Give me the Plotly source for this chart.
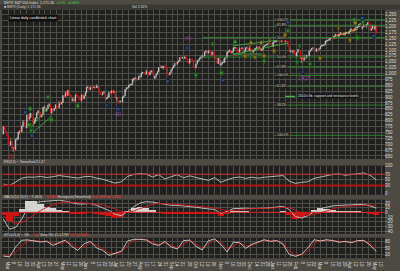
import plotly.graph_objects as go
from plotly.subplots import make_subplots

# ---------------- daily candles, 24 Feb 2009 .. 4 May 2010 (trading-day order) ----------------
price_open = (
    [743, 773, 764, 752]  # Feb 09
    + [735, 700, 696, 712, 682, 683, 677, 720, 721, 751, 756, 753, 778, 794, 784, 769, 823, 806, 813, 832, 815, 787]  # Mar 09
    + [798, 811, 834, 842, 835, 815, 825, 856, 858, 842, 852, 865, 869, 832, 850, 843, 851, 866, 857, 855, 873]  # Apr 09
    + [872, 877, 907, 903, 919, 907, 929, 909, 908, 883, 893, 882, 909, 908, 903, 888, 887, 910, 893, 906]  # May 09
    + [919, 942, 944, 931, 942, 940, 939, 942, 940, 944, 946, 923, 911, 910, 918, 921, 893, 895, 900, 920, 918, 927]  # Jun 09
    + [919, 923, 896, 898, 881, 879, 882, 879, 901, 905, 932, 940, 940, 951, 954, 954, 976, 979, 982, 979, 975, 986]  # Jul 09
    + [987, 1002, 1005, 1002, 997, 1010, 1007, 994, 1006, 1013, 1005, 979, 989, 997, 1008, 1026, 1025, 1028, 1028, 1031, 1029]  # Aug 09
    + [1021, 998, 995, 1004, 1016, 1025, 1033, 1044, 1042, 1049, 1053, 1068, 1065, 1068, 1064, 1071, 1060, 1050, 1044, 1062, 1060]  # Sep 09
    + [1057, 1029, 1025, 1040, 1054, 1057, 1065, 1071, 1076, 1073, 1092, 1096, 1087, 1097, 1091, 1081, 1092, 1079, 1066, 1063, 1042, 1066]  # Oct 09
    + [1036, 1042, 1046, 1047, 1066, 1069, 1093, 1093, 1098, 1087, 1093, 1109, 1110, 1110, 1094, 1091, 1106, 1105, 1110, 1091]  # Nov 09
    + [1096, 1109, 1109, 1099, 1106, 1104, 1091, 1095, 1102, 1106, 1114, 1107, 1110, 1097, 1102, 1114, 1118, 1120, 1126, 1128, 1126, 1126]  # Dec 09
    + [1115, 1133, 1136, 1137, 1141, 1145, 1147, 1136, 1146, 1148, 1136, 1150, 1138, 1116, 1092, 1096, 1092, 1097, 1084]  # Jan 10
    + [1074, 1090, 1103, 1098, 1063, 1066, 1056, 1070, 1068, 1078, 1075, 1095, 1100, 1107, 1109, 1108, 1095, 1105, 1103]  # Feb 10
    + [1105, 1115, 1118, 1119, 1123, 1139, 1139, 1141, 1146, 1151, 1150, 1150, 1159, 1167, 1166, 1160, 1166, 1174, 1167, 1165, 1166, 1173, 1173]  # Mar 10
    + [1169, 1178, 1187, 1189, 1182, 1186, 1194, 1197, 1197, 1210, 1212, 1192, 1198, 1208, 1205, 1208, 1217, 1213, 1183, 1191, 1206]  # Apr 10
    + [1187, 1202]  # May 10
)
price_high = (
    [778, 780, 770, 755]
    + [736, 711, 724, 713, 690, 689, 721, 731, 752, 758, 772, 779, 803, 797, 788, 824, 824, 832, 833, 833, 816, 810]
    + [814, 836, 845, 843, 836, 828, 857, 864, 862, 853, 870, 875, 869, 852, 862, 853, 871, 868, 864, 883, 888]
    + [880, 908, 908, 920, 930, 930, 929, 915, 908, 898, 894, 910, 916, 918, 903, 896, 911, 913, 909, 920]
    + [943, 947, 944, 943, 951, 946, 947, 949, 956, 947, 946, 928, 919, 922, 927, 921, 899, 911, 922, 921, 928, 930]
    + [931, 923, 899, 898, 887, 887, 883, 902, 906, 933, 943, 941, 951, 956, 959, 979, 979, 982, 982, 979, 996, 993]
    + [1004, 1006, 1007, 1009, 1018, 1010, 1007, 1012, 1014, 1013, 1005, 991, 999, 1011, 1027, 1035, 1037, 1032, 1033, 1039, 1029]
    + [1028, 1001, 1004, 1019, 1026, 1036, 1045, 1048, 1050, 1056, 1068, 1074, 1072, 1069, 1074, 1080, 1066, 1053, 1065, 1064, 1064]
    + [1057, 1031, 1042, 1060, 1058, 1071, 1071, 1080, 1076, 1093, 1097, 1096, 1098, 1099, 1101, 1095, 1095, 1095, 1072, 1064, 1067, 1066]
    + [1053, 1047, 1062, 1066, 1071, 1094, 1096, 1105, 1101, 1097, 1113, 1111, 1113, 1110, 1094, 1113, 1107, 1112, 1110, 1098]
    + [1113, 1117, 1118, 1119, 1110, 1104, 1096, 1108, 1110, 1116, 1114, 1117, 1110, 1103, 1117, 1119, 1121, 1127, 1130, 1130, 1128, 1127]
    + [1134, 1137, 1140, 1142, 1146, 1150, 1147, 1148, 1149, 1148, 1151, 1150, 1142, 1116, 1103, 1100, 1099, 1099, 1092]
    + [1091, 1104, 1103, 1098, 1067, 1071, 1080, 1072, 1080, 1078, 1095, 1100, 1108, 1112, 1112, 1108, 1107, 1105, 1107]
    + [1116, 1124, 1125, 1123, 1139, 1141, 1144, 1148, 1151, 1154, 1150, 1160, 1169, 1167, 1169, 1167, 1175, 1174, 1180, 1174, 1175, 1176, 1174]
    + [1181, 1188, 1191, 1189, 1187, 1194, 1199, 1199, 1210, 1213, 1212, 1198, 1209, 1208, 1208, 1217, 1219, 1213, 1195, 1207, 1208]
    + [1205, 1202]
)
price_low = (
    [740, 760, 748, 732]
    + [697, 690, 694, 680, 667, 672, 676, 715, 719, 742, 750, 749, 772, 780, 766, 768, 802, 803, 812, 813, 779, 785]
    + [790, 809, 826, 828, 811, 814, 824, 845, 839, 836, 848, 860, 830, 829, 841, 838, 850, 854, 847, 855, 866]
    + [866, 877, 897, 902, 901, 906, 904, 902, 880, 882, 878, 882, 903, 898, 884, 882, 880, 892, 889, 903]
    + [919, 938, 929, 930, 934, 932, 937, 933, 939, 938, 919, 910, 904, 907, 915, 892, 888, 894, 896, 913, 916, 915]
    + [917, 895, 886, 880, 869, 878, 873, 879, 896, 905, 928, 934, 940, 945, 947, 953, 965, 972, 968, 968, 975, 982]
    + [987, 998, 996, 994, 997, 1000, 992, 992, 1003, 998, 978, 979, 980, 996, 1008, 1024, 1024, 1021, 1016, 1024, 1016]
    + [996, 991, 992, 1002, 1016, 1023, 1029, 1038, 1035, 1045, 1052, 1061, 1064, 1057, 1063, 1058, 1045, 1041, 1044, 1055, 1049]
    + [1029, 1020, 1025, 1040, 1050, 1057, 1063, 1068, 1065, 1073, 1085, 1081, 1086, 1086, 1080, 1074, 1075, 1063, 1060, 1042, 1042, 1033]
    + [1030, 1034, 1045, 1047, 1060, 1069, 1086, 1093, 1085, 1085, 1093, 1102, 1105, 1086, 1086, 1091, 1097, 1105, 1084, 1086]
    + [1096, 1105, 1097, 1094, 1098, 1088, 1086, 1095, 1102, 1106, 1102, 1107, 1095, 1095, 1102, 1114, 1117, 1120, 1126, 1126, 1124, 1115]
    + [1115, 1130, 1134, 1131, 1136, 1141, 1131, 1131, 1142, 1131, 1136, 1129, 1114, 1091, 1091, 1085, 1083, 1081, 1072]
    + [1074, 1090, 1094, 1062, 1044, 1056, 1056, 1062, 1061, 1067, 1075, 1091, 1099, 1103, 1105, 1091, 1092, 1086, 1097]
    + [1105, 1115, 1116, 1116, 1123, 1136, 1133, 1141, 1138, 1148, 1141, 1150, 1159, 1163, 1155, 1151, 1165, 1164, 1165, 1160, 1166, 1168, 1165]
    + [1169, 1175, 1183, 1179, 1177, 1186, 1194, 1188, 1197, 1208, 1186, 1185, 1198, 1198, 1191, 1205, 1211, 1181, 1183, 1191, 1187]
    + [1187, 1168]
)
price_close = (
    [773, 764, 752, 735]
    + [700, 696, 712, 682, 683, 677, 720, 721, 751, 756, 753, 778, 794, 784, 769, 823, 806, 813, 832, 815, 787, 798]
    + [811, 834, 842, 835, 815, 825, 856, 858, 842, 852, 865, 869, 832, 850, 843, 851, 866, 857, 855, 873, 872]
    + [877, 907, 903, 919, 907, 929, 909, 908, 883, 893, 882, 909, 908, 903, 888, 887, 910, 893, 906, 919]
    + [942, 944, 931, 942, 940, 939, 942, 940, 944, 946, 923, 911, 910, 918, 921, 893, 895, 900, 920, 918, 927, 919]
    + [923, 896, 898, 881, 879, 882, 879, 901, 905, 932, 940, 940, 951, 954, 954, 976, 979, 982, 979, 975, 986, 987]
    + [1002, 1005, 1002, 997, 1010, 1007, 994, 1006, 1013, 1005, 979, 989, 997, 1008, 1026, 1025, 1028, 1028, 1031, 1029, 1021]
    + [998, 995, 1004, 1016, 1025, 1033, 1044, 1042, 1049, 1053, 1068, 1065, 1068, 1064, 1071, 1060, 1050, 1044, 1062, 1060, 1057]
    + [1029, 1025, 1040, 1054, 1057, 1065, 1071, 1076, 1073, 1092, 1096, 1087, 1097, 1091, 1081, 1092, 1079, 1066, 1063, 1042, 1066, 1036]
    + [1042, 1046, 1047, 1066, 1069, 1093, 1093, 1098, 1087, 1093, 1109, 1110, 1110, 1094, 1091, 1106, 1105, 1110, 1091, 1096]
    + [1109, 1109, 1099, 1106, 1104, 1091, 1095, 1102, 1106, 1114, 1107, 1110, 1097, 1102, 1114, 1118, 1120, 1126, 1128, 1126, 1126, 1115]
    + [1133, 1136, 1137, 1141, 1145, 1147, 1136, 1146, 1148, 1136, 1150, 1138, 1116, 1092, 1096, 1092, 1097, 1084, 1074]
    + [1090, 1103, 1098, 1063, 1066, 1056, 1070, 1068, 1078, 1075, 1095, 1100, 1107, 1109, 1108, 1095, 1105, 1103, 1105]
    + [1115, 1118, 1119, 1123, 1139, 1139, 1141, 1146, 1151, 1150, 1150, 1159, 1167, 1166, 1160, 1166, 1174, 1167, 1165, 1166, 1173, 1173, 1169]
    + [1178, 1187, 1189, 1182, 1186, 1194, 1197, 1197, 1210, 1212, 1192, 1198, 1208, 1205, 1208, 1217, 1213, 1183, 1191, 1206, 1187]
    + [1202, 1173]
)
day_pos = list(range(len(price_close)))

# ---------------- indicators, read every 5th trading day ----------------
ind_pos = list(range(0, 301, 5))
rsi14 = [35, 30, 42, 56, 60, 59, 62, 58, 61, 65, 62, 58, 56, 61, 62, 56, 52, 45, 38, 43,
         62, 69, 72, 70, 60, 68, 53, 61, 68, 57, 64, 58, 53, 48, 58, 41, 50, 57, 60, 55,
         59, 56, 59, 61, 63, 65, 45, 37, 41, 43, 55, 60, 66, 69, 71, 66, 69, 72, 74, 66, 50]
macd_line = [-14, -36, -32, -14, 12, 20, 23, 24, 25, 26, 24, 21, 18, 18, 19, 15, 10, 4, -4, -7,
             2, 12, 20, 23, 22, 20, 17, 15, 15, 14, 13, 11, 9, 8, 6, -2, 2, 8, 9, 9,
             8, 8, 9, 10, 11, 13, 6, -9, -12, -7, 1, 8, 11, 14, 15, 15, 16, 17, 17, 14, 9]
macd_signal = [-8, -18, -24, -22, -14, -5, 4, 11, 16, 20, 22, 22, 21, 20, 19, 18, 16, 12, 7, 2,
               0, 3, 8, 13, 17, 19, 19, 18, 17, 16, 15, 14, 12, 11, 9, 6, 4, 4, 6, 7,
               8, 8, 8, 9, 10, 11, 10, 5, -2, -6, -5, -1, 4, 8, 11, 13, 14, 15, 16, 16, 14]
macd_hist = [-6, -18, -8, 8, 26, 25, 19, 13, 9, 6, 2, -1, -3, -2, 0, -3, -6, -8, -11, -9,
             2, 9, 12, 10, 5, 1, -2, -3, -2, -2, -2, -3, -3, -3, -3, -8, -2, 4, 3, 2,
             0, 0, 1, 1, 1, 2, -4, -14, -10, -1, 6, 9, 7, 6, 4, 2, 2, 2, 1, -2, -5]
stoch_k = [10, 6, 55, 88, 89, 84, 79, 83, 62, 76, 88, 58, 38, 70, 82, 50, 38, 14, 25, 34,
           84, 92, 92, 89, 70, 62, 82, 55, 45, 86, 88, 58, 40, 85, 94, 68, 30, 78, 76, 48,
           68, 80, 90, 82, 86, 68, 18, 9, 20, 50, 90, 84, 90, 86, 78, 82, 76, 86, 86, 64, 32]
stoch_d = [14, 9, 28, 62, 84, 87, 82, 81, 72, 70, 80, 70, 50, 56, 74, 64, 46, 26, 22, 28,
           62, 88, 92, 90, 78, 66, 74, 64, 50, 70, 86, 70, 48, 68, 90, 78, 46, 60, 76, 60,
           62, 76, 86, 84, 84, 74, 36, 14, 16, 36, 74, 86, 88, 87, 82, 80, 78, 82, 86, 72, 46]

# ---------------- date axis ticks (trading-day positions) ----------------
tick_pos = [4, 9, 14, 19, 24, 29, 33, 38, 43, 48, 53, 58, 63, 67, 72, 77, 82, 87, 91, 96, 101, 106,
            111, 116, 121, 126, 131, 136, 140, 145, 150, 155, 160, 165, 170, 175, 180, 185, 190, 194,
            199, 204, 209, 213, 217, 222, 227, 231, 236, 241, 246, 250, 255, 260, 265, 270, 275,
            279, 284, 289, 294, 299, 304]
tick_text = ["Mar", "9", "16", "23", "30", "Apr", "13", "20", "27", "May", "11", "18", "26", "Jun", "8", "15",
             "22", "29", "Jul", "13", "20", "27", "Aug", "10", "17", "24", "31", "Sep", "14", "21", "28",
             "Oct", "12", "19", "26", "Nov", "9", "16", "23", "30", "Dec", "14", "21", "28", "Jan", "11",
             "19", "25", "Feb", "8", "16", "22", "Mar", "8", "15", "22", "29", "Apr", "12", "19", "26",
             "May", "10"]
price_ticks = list(range(650, 1251, 25))

# ---------------- drawn studies ----------------
fib_levels = [1229, 1205, 1153, 1070, 1029, 992, 946, 866, 738]
fib_labels = ["100.0%", "61.8%", "50.0%", "50.0%", "61.8%", "100.0%", "61.8%", "38.2%", "100.0%"]
fib_start = [218, 218, 160, 160, 218, 218, 218, 218, 218]

green_lines = [([21.5, 37.6], [767, 866]), ([23.9, 39.2], [750, 820]),
               ([184.8, 229], [1118, 1147]), ([184.8, 229], [1081, 1130]),
               ([184.8, 208], [1083, 1083])]
yellow_lines = [([265, 285], [1155, 1188])]

wave_labels = {
    "blue": [(17.5, 837, "a"), (23.1, 733, "b"), (83.4, 866, "c"), (92.3, 849, "w"), (147.8, 1110, "x"),
             (132.5, 969, "y"), (176.7, 973, "a"), (229, 1217, "b"), (241, 1006, "c"), (289.3, 1238, "w"),
             (298.2, 1159, "x")],
    "green": [(21.5, 849, "iii"), (21.5, 783, "iv"), (22.3, 758, "ii"), (39.2, 804, "iv"), (36, 899, "v"),
              (60.1, 862, "b"), (167.9, 1126, "i"), (155, 994, "ii"), (175.9, 1002, "iv"), (186.4, 1134, "iii"),
              (209.7, 1052, "a"), (229, 1180, "v"), (236.2, 1048, "c"), (238.6, 1118, "i"), (246.7, 1039, "ii"),
              (284.5, 1151, "iv"), (282.1, 1229, "iii"), (289.3, 1221, "v")],
    "yellow": [(194.4, 1076, "a"), (199.2, 1130, "b"), (202.5, 1072, "c"), (207.3, 1130, "d"), (209.7, 1076, "e"),
               (214.5, 1138, "i"), (217.7, 1097, "ii"), (226.6, 1163, "iii"), (254.7, 1068, "a"),
               (270, 1192, "i"), (278.9, 1143, "ii"), (282.9, 1213, "iii")],
}
wave_big = [(92.3, 824, "(X)", "#8a4fd6", 4.5), (148.6, 1147, "(Y)", "#8a4fd6", 4.5),
            (242.7, 981, "(X)?", "#8a4fd6", 6), (7, 649, "[1]", "#e02020", 5.5)]

# ---------------- styling ----------------
FRAME = "#4d4a43"
PANEL = "#1f1f1d"
GRID = "#4e4e4b"
TXT = "#dcdcdc"
RED = "#e01a1a"
FONT = "Liberation Sans"
W, H, ML, MR = 400, 271, 2, 15
PW = W - ML - MR


def px(xp):
    return (xp - ML) / PW


def py(yp):
    return 1 - yp / H


fig = make_subplots(rows=4, cols=1, shared_xaxes=True, vertical_spacing=0.01)

fig.add_trace(go.Candlestick(
    x=day_pos, open=price_open, high=price_high, low=price_low, close=price_close,
    increasing=dict(line=dict(color="#cfcfcf", width=0.5), fillcolor="#eeeeee"),
    decreasing=dict(line=dict(color=RED, width=0.5), fillcolor=RED),
    whiskerwidth=0, hoverinfo="skip"), row=1, col=1)

for (xs, ys) in green_lines:
    fig.add_trace(go.Scatter(x=xs, y=ys, mode="lines", line=dict(color="#3fbf3f", width=0.8),
                             hoverinfo="skip"), row=1, col=1)
for (xs, ys) in yellow_lines:
    fig.add_trace(go.Scatter(x=xs, y=ys, mode="lines", line=dict(color="#c8b43c", width=0.8),
                             hoverinfo="skip"), row=1, col=1)
for lvl, x0 in zip(fib_levels, fib_start):
    fig.add_trace(go.Scatter(x=[x0, 307], y=[lvl, lvl], mode="lines",
                             line=dict(color="#2e8a2e", width=0.9), hoverinfo="skip"), row=1, col=1)
# legend sample line for the fib study
fig.add_trace(go.Scatter(x=[226.6, 234.7], y=[903, 903], mode="lines",
                         line=dict(color="#3fbf3f", width=1.2), hoverinfo="skip"), row=1, col=1)

# RSI
fig.add_trace(go.Scatter(x=ind_pos, y=rsi14, mode="lines", line=dict(color="#c4c4c4", width=0.9)), row=2, col=1)
fig.add_hline(y=70, line=dict(color="#c82020", width=1), row=2, col=1)
fig.add_hline(y=30, line=dict(color="#b01515", width=2), row=2, col=1)

# MACD
fig.add_trace(go.Bar(x=ind_pos, y=macd_hist, width=5,
                     marker=dict(color=["#d4d4d4" if v >= 0 else "#d01414" for v in macd_hist], line=dict(width=0)),
                     hoverinfo="skip"), row=3, col=1)
fig.add_hline(y=0, line=dict(color="#d01818", width=1), row=3, col=1)
fig.add_trace(go.Scatter(x=ind_pos, y=macd_line, mode="lines", line=dict(color="#c8c8c8", width=0.9)), row=3, col=1)
fig.add_trace(go.Scatter(x=ind_pos, y=macd_signal, mode="lines", line=dict(color="#d01818", width=0.9)), row=3, col=1)

# Stochastics
fig.add_hline(y=80, line=dict(color="#c02020", width=1), row=4, col=1)
fig.add_hline(y=20, line=dict(color="#c02020", width=1), row=4, col=1)
fig.add_trace(go.Scatter(x=ind_pos, y=stoch_d, mode="lines", line=dict(color="#d01818", width=0.9)), row=4, col=1)
fig.add_trace(go.Scatter(x=ind_pos, y=stoch_k, mode="lines", line=dict(color="#d0d0d0", width=0.9)), row=4, col=1)

fig.update_xaxes(range=[-1, 307], tickvals=tick_pos, ticktext=tick_text, showgrid=True, gridcolor=GRID,
                 gridwidth=1, zeroline=False, showline=False, ticks="", showticklabels=False,
                 rangeslider_visible=False, fixedrange=True)
fig.update_xaxes(showticklabels=True, tickfont=dict(size=4.5, color=TXT, family=FONT), row=4, col=1)
fig.update_yaxes(side="right", showgrid=True, gridcolor=GRID, gridwidth=1, zeroline=False, ticks="",
                 tickfont=dict(size=4.5, color=TXT, family=FONT), automargin=False, fixedrange=True,
                 ticklabelstandoff=-1)

fig.update_layout(
    width=W, height=H, margin=dict(l=ML, r=MR, t=0, b=0),
    paper_bgcolor=FRAME, plot_bgcolor=PANEL, showlegend=False,
    font=dict(family=FONT, size=4.5, color=TXT), bargap=0,
    yaxis=dict(domain=[py(163), py(10)], range=[638, 1271], tickvals=price_ticks, tickformat=","),
    yaxis2=dict(domain=[py(200), py(170)], range=[-3.4, 100.3], tickvals=[0, 30, 50, 70, 100]),
    yaxis3=dict(domain=[py(240), py(205)], range=[-45.8, 27.1], tickvals=[-40, -30, -20, -10, 0, 10, 20]),
    yaxis4=dict(domain=[py(265), py(244)], range=[0, 100], tickvals=[20, 50, 80]),
)

# header band
fig.add_shape(type="rect", xref="paper", yref="paper", x0=px(0), x1=px(400), y0=py(10), y1=py(4.6),
              fillcolor="#3a3833", line=dict(width=0), layer="below")

anns = []


def note(xp, yp, text, color=TXT, size=3.5, bg=None):
    a = dict(xref="paper", yref="paper", x=px(xp), y=py(yp), text=text, showarrow=False,
             xanchor="left", yanchor="middle", font=dict(size=size, color=color, family=FONT))
    if bg:
        a.update(bgcolor=bg, borderpad=1)
    anns.append(a)


note(2, 2.6, "$SPX S&P 500 Index &nbsp;1,171.36 &nbsp;<span style='color:#33d833'>+5.55 &nbsp;+0.48%</span>", size=3.6)
note(2, 7.4, "■ $SPX (Daily) 1,171.36", size=3.4)
note(130, 7.4, "Vol 2.56%", size=3.4)
note(8, 18.5, "Linear daily candlestick chart", color="#f0f0f0", size=3.6, bg="#101010")
note(2, 166.6, "RSI(14) ─ Smoothed 51.27", size=3.4)
note(2, 202.4, "MACD(12,26,9) ─ 9.4405 <span style='color:#ff3030'>─ 9.6404</span> Histogram(Smoothed) "
     "<span style='color:#ff3030'>■ -0.1999 ■ 5.2000</span>", size=3.4)
note(2, 240.8, "STO(14,3) ─ %K <span style='color:#ff3030'>─ %D</span> Slow %K 41.12789 "
     "<span style='color:#ff3030'>%D 54.8000</span>", size=3.4)

for lvl, lab, x0 in zip(fib_levels, fib_labels, fib_start):
    anns.append(dict(xref="x", yref="y", x=219.5, y=lvl, text=lab, showarrow=False, xanchor="left",
                     yanchor="middle", font=dict(size=3.4, color="#d8d8d8", family=FONT),
                     bgcolor=PANEL, borderpad=0))
anns.append(dict(xref="x", yref="y", x=236, y=903, text="2010's fib. support and resistance levels",
                 showarrow=False, xanchor="left", yanchor="middle",
                 font=dict(size=3.4, color="#e8e8e8", family=FONT), bgcolor="#141414", borderpad=0))

wave_colors = {"blue": ("#5a8cf0", "#16264a"), "green": ("#6ee06e", "#1c5a1c"), "yellow": ("#e6d45a", "#5a5014")}
for key, items in wave_labels.items():
    fc, bc = wave_colors[key]
    for (xv, yv, t) in items:
        anns.append(dict(xref="x", yref="y", x=xv, y=yv, text=t, showarrow=False,
                         font=dict(size=3.2, color=fc, family=FONT), bgcolor=bc, borderpad=0))
for (xv, yv, t, c, s) in wave_big:
    anns.append(dict(xref="x", yref="y", x=xv, y=yv, text=t, showarrow=False,
                     font=dict(size=s, color=c, family=FONT)))

fig.update_layout(annotations=anns)
fig.write_html("out.html")
